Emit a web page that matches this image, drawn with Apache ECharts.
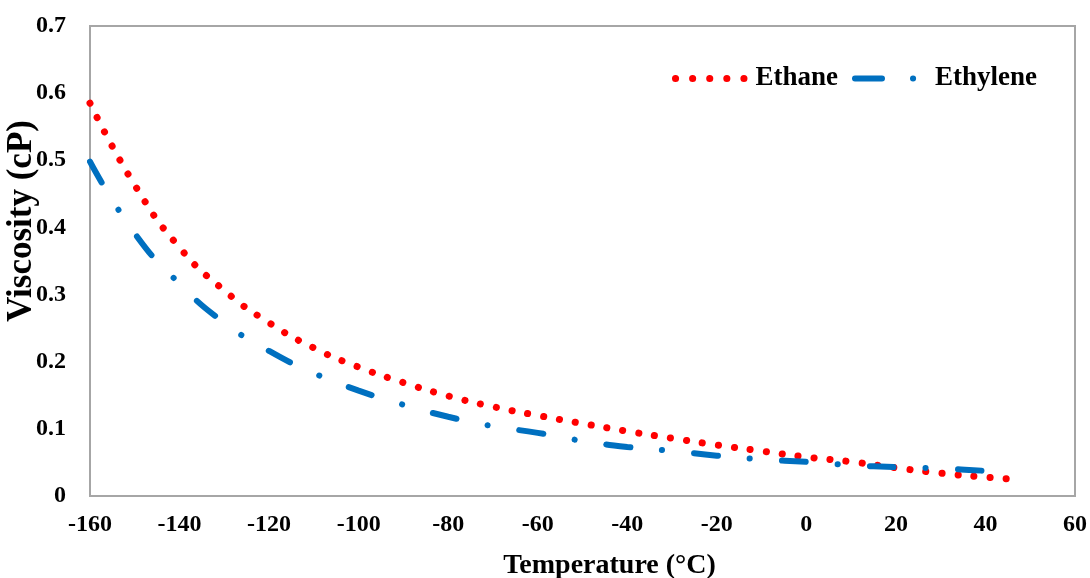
<!DOCTYPE html>
<html><head><meta charset="utf-8">
<script src="https://cdn.jsdelivr.net/npm/echarts@6/dist/echarts.min.js"></script>
<style>html,body{margin:0;padding:0;background:#fff}#c{width:1090px;height:578px}</style>
</head><body><div id="c"></div>
<script>
const ethaneT = [-160,-150,-140,-130,-120,-110,-100,-90,-80,-70,-60,-50,-40,-30,-20,-10,0,10,20,30,40,46];
const ethaneV = [0.585,0.463,0.37,0.306,0.258,0.2205,0.192,0.169,0.149,0.133,0.12,0.108,0.0965,0.086,0.076,0.067,0.058,0.051,0.042,0.034,0.028,0.025];
const ethyleneT = [-160,-150,-140,-130,-120,-110,-100,-90,-80,-70,-60,-50,-40,-30,-20,-10,0,10,20,30,40,42.5];
const ethyleneV = [0.498,0.391,0.316,0.258,0.216,0.183,0.157,0.136,0.118,0.104,0.094,0.082,0.073,0.067,0.060,0.0545,0.051,0.046,0.043,0.041,0.0375,0.037];
const xTicks = {min:-160, max:60, interval:20};
const yTicks = {min:0, max:0.7, interval:0.1};

const font = 'Liberation Serif';
const chart = echarts.init(document.getElementById('c'), null, {renderer:'canvas'});
chart.setOption({
  animation:false,
  grid:{left:90,right:15,top:26,bottom:82,show:true,borderColor:'#a6a6a6',borderWidth:2,containLabel:false,outerBoundsMode:'none'},
  legend:{
    right:48, top:60, itemWidth:70, itemHeight:10, itemGap:14,
    textStyle:{fontFamily:font,fontWeight:'bold',fontSize:27,color:'#000',padding:[0,0,0,5]},
    data:[
      {name:'Ethane', itemStyle:{opacity:0}, lineStyle:{color:'#ff0000',width:7,type:[0.1,17],cap:'round',opacity:1}},
      {name:'Ethylene', itemStyle:{opacity:0}, lineStyle:{color:'#0070c0',width:6,type:[27,31,0.1,100],cap:'round',opacity:1}}
    ]
  },
  xAxis:{
    type:'value', min:xTicks.min, max:xTicks.max, interval:xTicks.interval,
    name:'Temperature (°C)', nameLocation:'middle', nameGap:56, nameMoveOverlap:false,
    nameTextStyle:{fontFamily:font,fontWeight:'bold',fontSize:28,color:'#000',padding:[0,0,0,54]},
    axisLine:{show:false}, axisTick:{show:false}, splitLine:{show:false},
    axisLabel:{fontFamily:font,fontWeight:'bold',fontSize:24,color:'#000',margin:17}
  },
  yAxis:{
    type:'value', min:yTicks.min, max:yTicks.max, interval:yTicks.interval,
    name:'Viscosity (cP)', nameLocation:'middle', nameGap:51, nameMoveOverlap:false,
    nameTextStyle:{fontFamily:font,fontWeight:'bold',fontSize:35,color:'#000',padding:[0,0,0,80]},
    axisLine:{show:false}, axisTick:{show:false}, splitLine:{show:false},
    axisLabel:{fontFamily:font,fontWeight:'bold',fontSize:24,color:'#000',margin:24}
  },
  series:[
    {name:'Ethane', type:'line', smooth:true, showSymbol:false, symbol:'none',
     data:ethaneT.map((t,i)=>[t,ethaneV[i]]),
     itemStyle:{color:'#ff0000'},
     lineStyle:{color:'#ff0000',width:7,type:[0.1,16],cap:'round'}},
    {name:'Ethylene', type:'line', smooth:true, showSymbol:false, symbol:'none',
     data:ethyleneT.map((t,i)=>[t,ethyleneV[i]]),
     itemStyle:{color:'#0070c0'},
     lineStyle:{color:'#0070c0',width:6,type:[24,32,0.1,32],cap:'round'}}
  ]
});
</script></body></html>
